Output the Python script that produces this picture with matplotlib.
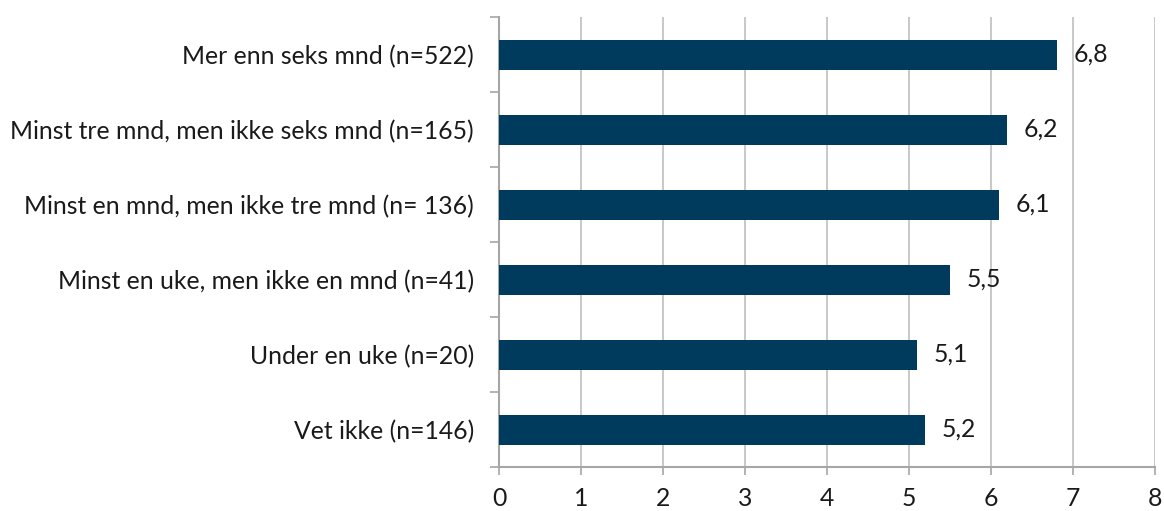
import matplotlib
matplotlib.use("Agg")
import matplotlib.pyplot as plt
from matplotlib.ticker import FixedLocator, NullFormatter

categories = [
    "Mer enn seks mnd (n=522)",
    "Minst tre mnd, men ikke seks mnd (n=165)",
    "Minst en mnd, men ikke tre mnd (n= 136)",
    "Minst en uke, men ikke en mnd (n=41)",
    "Under en uke (n=20)",
    "Vet ikke (n=146)",
]
values = [6.8, 6.2, 6.1, 5.5, 5.1, 5.2]
x_ticks = [0, 1, 2, 3, 4, 5, 6, 7, 8]

plt.rcParams["font.family"] = ["Lato", "DejaVu Sans"]
FS = 17.8

fig = plt.figure(figsize=(11.64, 5.11), dpi=100)
ax = fig.add_axes([499 / 1164, 1 - 467 / 511, 656 / 1164, 450 / 511])

n = len(categories)
ypos = list(range(n))
ax.barh(ypos, values, height=0.4, color="#003A5C", zorder=3)
ax.set_ylim(n - 0.5, -0.5)
ax.set_xlim(0, 8)

ax.set_yticks(ypos)
ax.set_yticklabels(categories, fontsize=FS, color="#1a1a1a")
ax.tick_params(axis="y", which="major", length=0, pad=18)
ax.yaxis.set_minor_locator(FixedLocator([i - 0.5 for i in range(n + 1)]))
ax.yaxis.set_minor_formatter(NullFormatter())
ax.tick_params(axis="y", which="minor", length=6.5, width=1.2, color="#A6A6A6")

ax.set_xticks(x_ticks)
ax.set_xticklabels([str(t) for t in x_ticks], fontsize=FS, color="#1a1a1a")
ax.tick_params(axis="x", length=6, width=1.2, color="#A6A6A6", pad=8.5)

ax.grid(axis="x", color="#BFBFBF", linewidth=1.2, zorder=0)
for side in ("top", "right"):
    ax.spines[side].set_visible(False)
for side in ("left", "bottom"):
    ax.spines[side].set_color("#A6A6A6")
    ax.spines[side].set_linewidth(1.5)

for y, v in zip(ypos, values):
    ax.annotate(f"{v:.1f}".replace(".", ","), xy=(v, y), xytext=(12, 0),
                textcoords="offset points", va="center", ha="left",
                fontsize=FS, color="#1a1a1a")

fig.savefig("out.png", dpi=100)
